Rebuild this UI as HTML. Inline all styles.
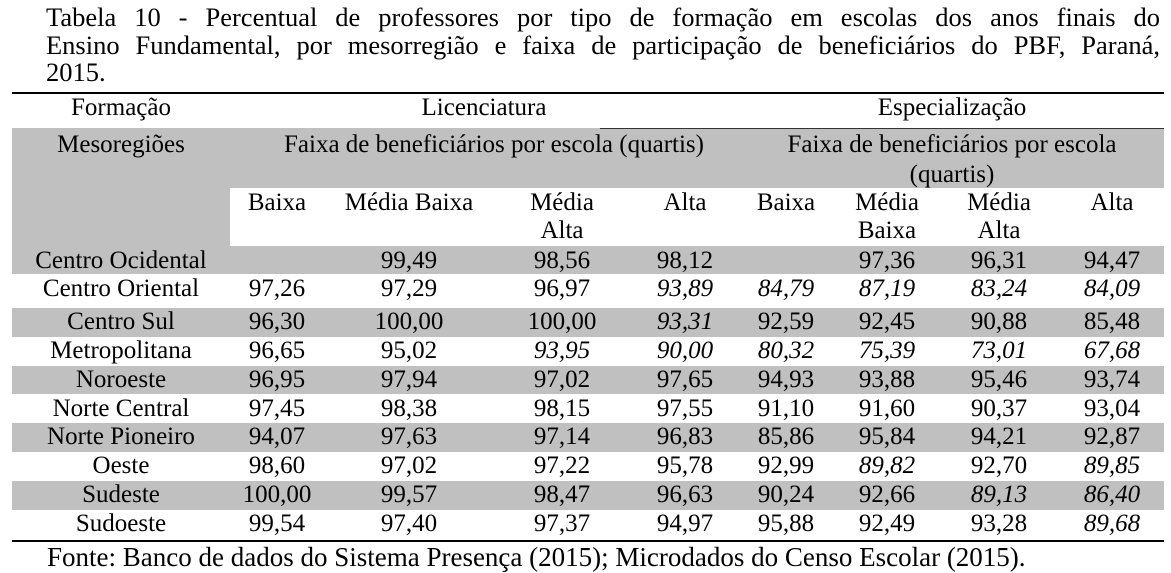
<!DOCTYPE html>
<html><head><meta charset="utf-8"><style>
body{margin:0;width:1171px;height:573px;background:#fff;position:relative;overflow:hidden;font-family:"Liberation Serif",serif;color:#000}
.t{position:absolute;font-size:25px;line-height:28px;white-space:nowrap;text-align:center;width:240px}
.g{position:absolute;background:#c0c0c0}
.i{font-style:italic}
.tl{position:absolute;left:46px;width:1114px;font-size:26.5px;line-height:28px;white-space:nowrap}
.j{text-align:justify;text-align-last:justify}
.ln{position:absolute;background:#000;left:12px;width:1152px;height:2px}
</style></head><body>
<div class="tl j" style="top:3px">Tabela 10 - Percentual de professores por tipo de formação em escolas dos anos finais do</div>
<div class="tl j" style="top:31px">Ensino Fundamental, por mesorregião e faixa de participação de beneficiários do PBF, Paraná,</div>
<div class="tl" style="top:58px">2015.</div>
<div class="ln" style="top:92px"></div>
<div class="g" style="left:12px;top:128px;width:1152px;height:60px"></div>
<div class="g" style="left:12px;top:188px;width:218px;height:58px"></div>
<div style="position:absolute;left:600px;top:128px;width:564px;height:1px;background:#333"></div>
<div class="g" style="left:12px;top:246px;width:1152px;height:28px"></div>
<div class="g" style="left:12px;top:308px;width:1152px;height:29px"></div>
<div class="g" style="left:12px;top:366px;width:1152px;height:28px"></div>
<div class="g" style="left:12px;top:423px;width:1152px;height:29px"></div>
<div class="g" style="left:12px;top:481px;width:1152px;height:29px"></div>
<div class="ln" style="top:540px"></div>

<div class="t" style="left:1px;top:94px">Formação</div>
<div class="t" style="left:364px;top:94px">Licenciatura</div>
<div class="t" style="left:832px;top:94px">Especialização</div>
<div class="t" style="left:1px;top:131px">Mesoregiões</div>
<div class="t" style="left:284px;top:131px;width:400px">Faixa de beneficiários por escola (quartis)</div>
<div class="t" style="left:752px;top:131px;width:400px">Faixa de beneficiários por escola</div>
<div class="t" style="left:832px;top:161px">(quartis)</div>
<div class="t" style="left:157px;top:189px">Baixa</div>
<div class="t" style="left:289px;top:189px">Média Baixa</div>
<div class="t" style="left:442px;top:189px">Média<br>Alta</div>
<div class="t" style="left:565px;top:189px">Alta</div>
<div class="t" style="left:666px;top:189px">Baixa</div>
<div class="t" style="left:767px;top:189px">Média<br>Baixa</div>
<div class="t" style="left:879px;top:189px">Média<br>Alta</div>
<div class="t" style="left:992px;top:189px">Alta</div>

<div id="rows"></div>
<div class="t" style="left:47px;top:543px;width:auto;text-align:left;font-size:27px">Fonte: Banco de dados do Sistema Presença (2015); Microdados do Censo Escolar (2015).</div>
<script>
var cx=[121,277,409,562,685,786,887,999,1112];
var tops=[247,275,308,337,366,395,423,452,481,510];
var d=[
["Centro Ocidental","","99,49","98,56","98,12","","97,36","96,31","94,47"],
["Centro Oriental","97,26","97,29","96,97","*93,89","*84,79","*87,19","*83,24","*84,09"],
["Centro Sul","96,30","100,00","100,00","*93,31","92,59","92,45","90,88","85,48"],
["Metropolitana","96,65","95,02","*93,95","*90,00","*80,32","*75,39","*73,01","*67,68"],
["Noroeste","96,95","97,94","97,02","97,65","94,93","93,88","95,46","93,74"],
["Norte Central","97,45","98,38","98,15","97,55","91,10","91,60","90,37","93,04"],
["Norte Pioneiro","94,07","97,63","97,14","96,83","85,86","95,84","94,21","92,87"],
["Oeste","98,60","97,02","97,22","95,78","92,99","*89,82","92,70","*89,85"],
["Sudeste","100,00","99,57","98,47","96,63","90,24","92,66","*89,13","*86,40"],
["Sudoeste","99,54","97,40","97,37","94,97","95,88","92,49","93,28","*89,68"]];
var h="";
d.forEach(function(r,ri){r.forEach(function(v,ci){var it=v[0]=="*";if(it)v=v.slice(1);
h+='<div class="t'+(it?' i':'')+'" style="left:'+(cx[ci]-120)+'px;top:'+tops[ri]+'px">'+v+'</div>';});});
document.getElementById("rows").innerHTML=h;
</script>
</body></html>
